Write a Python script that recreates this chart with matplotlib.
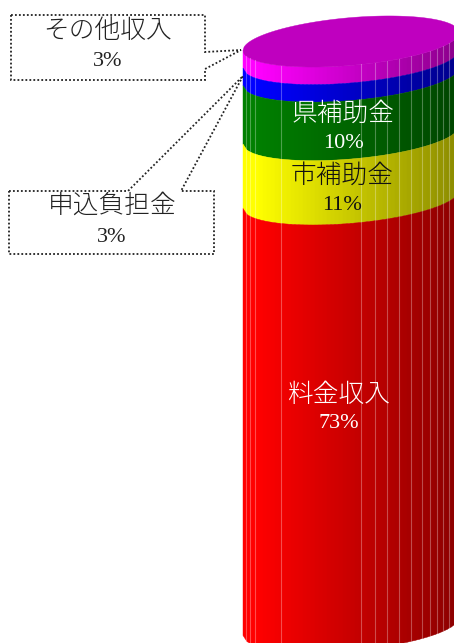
import numpy as np
import matplotlib
matplotlib.use('Agg')
import matplotlib.pyplot as plt
from matplotlib.patches import Polygon

plt.rcParams['font.family'] = ['Liberation Serif', 'Noto Sans CJK JP']

# top of the cylinder first
nombres = ['その他収入', '申込負担金', '県補助金', '市補助金', '料金収入']
valores = [3, 3, 10, 11, 73]
colores = [(1, 0, 1), (0, 0, 1), (0, 0.5, 0), (1, 1, 0), (1, 0, 0)]
color_texto = ['#222222', '#222222', 'white', '#111111', 'white']

# where the label sits, one entry per band
label_x = [108, 112, 343, 342, 339]
label_y = [31, 206, 114, 176, 395]
pct_y = [62, 237, 144, 205, 424]

costuras = [246, 250, 255, 281, 361, 375, 387, 399, 411, 422, 430, 437, 443, 449]

fig = plt.figure(figsize=(4.54, 6.43), dpi=100)
ax = fig.add_axes([0, 0, 1, 1])
ax.set_xlim(0, 454)
ax.set_ylim(643, 0)
ax.axis('off')

# cylinder shape, in pixels
cx, cy, a, b, k = 351, 41.5, 108, 23.9, -9
px_por_pct = 5.85


def borde(x, lado=1):
    c = np.clip((x - cx) / a, -1, 1)
    return cy + k * c + lado * b * np.sqrt(1 - c ** 2)


def sombra(x):
    return np.clip(1 - 0.45 * (x - 255) / 199, 0.55, 1)


tiras = np.arange(243, 456, 4.0)
acumulado = 0
for valor, color in zip(valores, colores):
    for x0, x1 in zip(tiras[:-1], tiras[1:]):
        s = sombra(x0)
        y0 = acumulado * px_por_pct
        y1 = (acumulado + valor) * px_por_pct
        pts = [(x0, borde(x0) + y0), (x1, borde(x1) + y0),
               (x1, borde(x1) + y1), (x0, borde(x0) + y1)]
        c = tuple(s * v for v in color)
        ax.add_patch(Polygon(pts, closed=True, facecolor=c, edgecolor=c, linewidth=0.3))
    acumulado += valor

# lighter seams between facets
for x in costuras:
    ax.plot([x, x], [borde(x), borde(x) + acumulado * px_por_pct],
            color='white', alpha=0.3, linewidth=0.8)

# top face
xs = np.linspace(243, 459, 200)
tapa = list(zip(xs, borde(xs, 1))) + list(zip(xs[::-1], borde(xs[::-1], -1)))
ax.add_patch(Polygon(tapa, closed=True, facecolor=(0.75, 0, 0.75), edgecolor=(0.75, 0, 0.75), linewidth=0.3))

# dotted callouts
caja1 = [(11, 15), (205, 15), (205, 52), (241, 50), (205, 69), (205, 80), (11, 80)]
caja2 = [(9, 191), (128, 191), (243, 76), (181, 191), (214, 191), (214, 254), (9, 254)]
for caja in (caja1, caja2):
    ax.add_patch(Polygon(caja, closed=True, facecolor='white', edgecolor='#222222',
                         linewidth=1.3, linestyle=(0, (1, 1.2))))

for i in range(len(nombres)):
    ax.text(label_x[i], label_y[i], nombres[i], ha='center', va='center',
            fontsize=18.5, color=color_texto[i], fontweight='light')
    ax.text(label_x[i], pct_y[i], f'{valores[i]}%', ha='center', va='center',
            fontsize=16, color=color_texto[i])

fig.savefig('out.png', dpi=100)
